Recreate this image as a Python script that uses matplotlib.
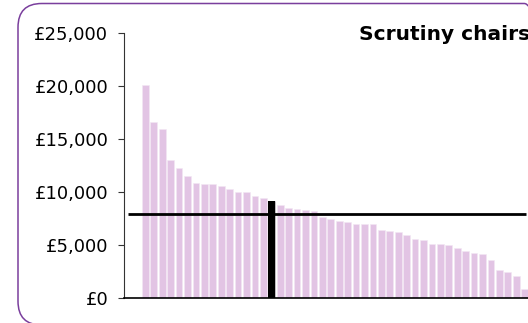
import numpy as np
import matplotlib
matplotlib.use("Agg")
from matplotlib import pyplot as plt
from matplotlib.patches import FancyBboxPatch
from matplotlib.ticker import FuncFormatter

# allowance per council, sorted high to low
allowances = [20100, 16550, 15950, 12990, 12200, 11480, 10820, 10730, 10730,
              10570, 10250, 9970, 9970, 9560, 9400, 9150, 8750, 8460, 8370,
              8270, 8180, 7610, 7450, 7240, 7110, 6920, 6920, 6920, 6420,
              6320, 6230, 5920, 5540, 5440, 5030, 5030, 4970, 4690, 4410,
              4250, 4090, 3560, 2610, 2420, 2050, 850]
highlight = 15          # the council picked out in black
average = 7920          # the horizontal reference line
title = "Scrutiny chairs"
yticks = [0, 5000, 10000, 15000, 20000, 25000]

W, H = 528, 323
fig = plt.figure(figsize=(W / 100, H / 100), dpi=100)

# rounded purple frame, runs off the right and bottom of the image
frame = FancyBboxPatch((18 / W, -2 / H), 530 / W, 321.5 / H,
                       boxstyle="round,pad=0,rounding_size=0.045",
                       transform=fig.transFigure, facecolor="none",
                       edgecolor="#7a3f9d", linewidth=1.1,
                       mutation_aspect=W / H, zorder=0)
fig.patches.append(frame)

# plot area in pixels: left 124, y from 297.7 (0) to 32.7 (25k)
ax_w = 436
ax = fig.add_axes([124 / W, (H - 297.7) / H, ax_w / W, 265 / H])
ax.patch.set_alpha(0)

step = 8.43
x0 = -21.35 / step
x = np.arange(len(allowances))
colors = ["#e2c4e4"] * len(allowances)
colors[highlight] = "black"
ax.bar(x, allowances, width=0.8, color=colors, edgecolor="#f3e8f3",
       linewidth=0.4, zorder=2)
ax.bar(x[highlight], allowances[highlight], width=0.8, color="black", zorder=3)

ax.plot([x0 + 4 / step, x0 + 402 / step], [average, average], color="black",
        linewidth=2, zorder=4, solid_capstyle="butt")

ax.set_xlim(x0, x0 + ax_w / step)
ax.set_ylim(0, 25000)
ax.set_yticks(yticks)
ax.yaxis.set_major_formatter(FuncFormatter(lambda v, p: "£{:,.0f}".format(v)))
ax.tick_params(axis="y", length=4.3, width=0.8, pad=7, labelsize=13,
               color="#333333", labelcolor="black")
ax.set_xticks([])
for s in ["top", "right"]:
    ax.spines[s].set_visible(False)
ax.spines["left"].set_color("#333333")
ax.spines["left"].set_linewidth(0.8)
ax.spines["bottom"].set_color("black")
ax.spines["bottom"].set_linewidth(1.2)

fig.text(359 / W, (H - 40.5) / H, title, fontsize=14.5, fontweight="bold",
         va="baseline", ha="left")

fig.savefig("out.png", dpi=100)
